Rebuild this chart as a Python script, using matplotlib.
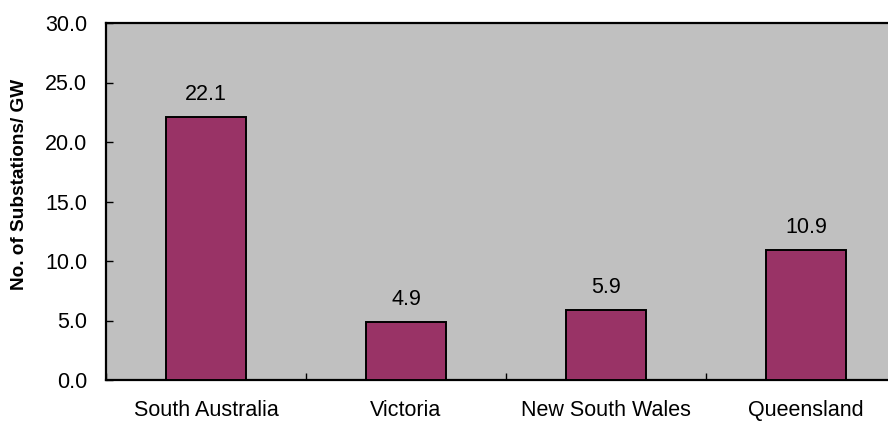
import matplotlib
matplotlib.use("Agg")
import matplotlib.pyplot as plt
import numpy as np

categories = ["South Australia", "Victoria", "New South Wales", "Queensland"]
values = [22.1, 4.9, 5.9, 10.9]
yticks = [0, 5, 10, 15, 20, 25, 30]

plt.rcParams['font.family'] = ['Liberation Sans', 'DejaVu Sans']

W, H = 888, 421
fig = plt.figure(figsize=(W / 100, H / 100), dpi=100)
ax = fig.add_axes([106 / W, (H - 380) / H, 800 / W, 357 / H])
ax.set_facecolor('#C0C0C0')

x = np.arange(len(categories))
bars = ax.bar(x, values, width=0.4, color='#993366', edgecolor='black', linewidth=1.4, zorder=3)
ax.bar_label(bars, labels=[f"{v:.1f}" for v in values], padding=8.5, fontsize=15.5)

ax.set_xlim(-0.5, len(categories) - 0.5)
ax.set_ylim(0, 30)
ax.set_yticks(yticks)
ax.set_yticklabels([f"{v:.1f}" for v in yticks])
ax.set_xticks(x)
ax.set_xticklabels(categories)
ax.set_xticks(np.arange(len(categories) + 1) - 0.5, minor=True)

ax.tick_params(axis='y', direction='in', length=5, width=1, labelsize=15.5, pad=13.5)
ax.tick_params(axis='x', which='major', length=0, labelsize=15.5, pad=14.5)
ax.tick_params(axis='x', which='minor', direction='in', length=5, width=1)

for s in ax.spines.values():
    s.set_linewidth(1.6)
    s.set_color('black')

fig.text(20 / W, 1 - 184 / H, "No. of Substations/ GW", rotation=90, ha='center', va='center',
         fontsize=13.7, fontweight='bold')

fig.savefig("out.png", dpi=100)
